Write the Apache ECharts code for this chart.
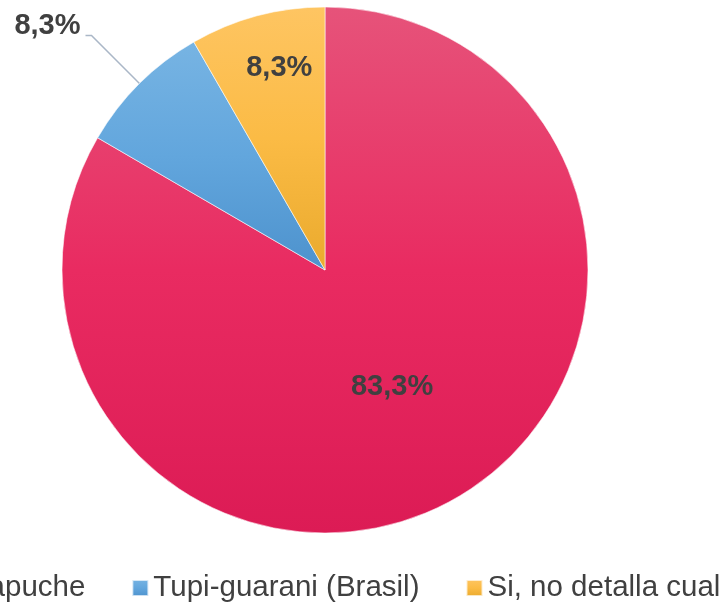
<!DOCTYPE html>
<html>
<head>
<meta charset="utf-8">
<script src="https://cdn.jsdelivr.net/npm/echarts@6/dist/echarts.min.js"></script>
<style>
html,body{margin:0;padding:0;background:#fff;}
#chart{width:723px;height:608px;}
</style>
</head>
<body>
<div id="chart"></div>
<script>
const categories = ['Mapuche', 'Tupi-guarani (Brasil)', 'Si, no detalla cual'];
const values = [83.3, 8.3, 8.3];

const gradients = [
  ['#e6537a', '#e92b61', '#dc1b55'],
  ['#77b4e3', '#62a6dd', '#4d92cd'],
  ['#fec562', '#fbbb45', '#eaaa2d']
];
function grad(c) {
  return new echarts.graphic.LinearGradient(0, 0, 0, 1, [
    {offset: 0, color: c[0]}, {offset: 0.5, color: c[1]}, {offset: 1, color: c[2]}
  ]);
}
const fontFam = '"Liberation Sans", Arial, Helvetica, sans-serif';

const data = categories.map((name, i) => {
  const item = {name: name, value: values[i], itemStyle: {color: grad(gradients[i])}};
  if (i === 1) {
    item.label = {position: 'outside'};
    item.labelLine = {show: true, length: 68, length2: 6, lineStyle: {color: '#aab7c7', width: 1.5}};
  }
  return item;
});

const chart = echarts.init(document.getElementById('chart'), null, {renderer: 'canvas'});
chart.setOption({
  backgroundColor: '#ffffff',
  animation: false,
  legend: {
    left: -58,
    top: 573,
    padding: 0,
    itemGap: 46,
    itemWidth: 16,
    itemHeight: 16,
    icon: 'rect',
    textStyle: {fontFamily: fontFam, fontSize: 29.5, color: '#404040'},
    data: categories
  },
  series: [{
    type: 'pie',
    center: [325, 270],
    radius: [0, 263],
    startAngle: 90,
    clockwise: true,
    avoidLabelOverlap: false,
    itemStyle: {borderColor: 'rgba(255,255,255,0.7)', borderWidth: 0.8},
    label: {
      show: true,
      position: 'inside',
      fontFamily: fontFam,
      fontSize: 29,
      fontWeight: 'bold',
      color: '#404040',
      formatter: p => p.value.toFixed(1).replace('.', ',') + '%'
    },
    labelLine: {show: false},
    labelLayout: function (p) {
      if (p.dataIndex === 2) return {dx: -11, dy: -72};
      if (p.dataIndex === 1) return {dy: -9};
      return {};
    },
    data: data
  }]
});
</script>
</body>
</html>
